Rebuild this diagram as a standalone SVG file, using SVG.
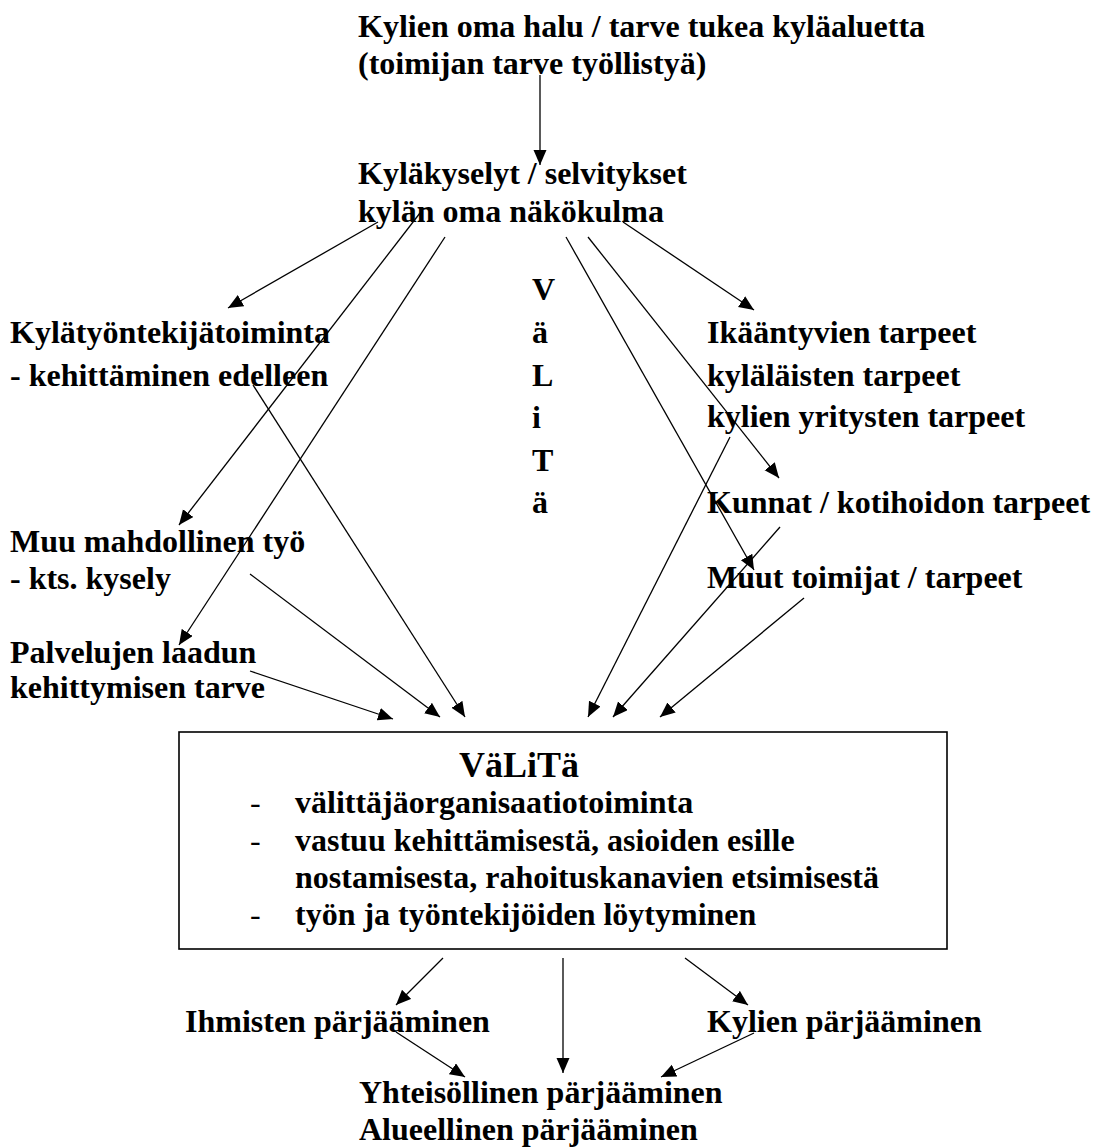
<svg xmlns="http://www.w3.org/2000/svg" width="1093" height="1147" viewBox="0 0 1093 1147">
<defs>
<marker id="ah" markerUnits="userSpaceOnUse" markerWidth="16" markerHeight="14" refX="15" refY="6.5" orient="auto">
<path d="M0,0 L15,6.5 L0,13 z" fill="#000"/>
</marker>
<style>
text{font-family:"Liberation Serif","Times New Roman",serif;font-weight:bold;font-size:32px;fill:#000}
.big{font-size:36px}
.dash{font-weight:normal}
.c line{stroke:#000;stroke-width:1.3;marker-end:url(#ah)}
</style>
</defs>
<rect width="1093" height="1147" fill="#fff"/>

<g id="top">
<text x="358" y="37">Kylien oma halu / tarve tukea kyläaluetta</text>
<text x="358" y="74">(toimijan tarve työllistyä)</text>
</g>
<g id="kysely">
<text x="358" y="184">Kyläkyselyt / selvitykset</text>
<text x="358" y="222">kylän oma näkökulma</text>
</g>
<g id="valita-vert">
<text x="532" y="300">V</text>
<text x="532" y="343">ä</text>
<text x="532" y="386">L</text>
<text x="532" y="428">i</text>
<text x="532" y="471">T</text>
<text x="532" y="513">ä</text>
</g>
<g id="kylatyo">
<text x="10" y="343">Kylätyöntekijätoiminta</text>
<text x="10" y="386">- kehittäminen edelleen</text>
</g>
<g id="muu">
<text x="10" y="552">Muu mahdollinen työ</text>
<text x="10" y="589">- kts. kysely</text>
</g>
<g id="palvelu">
<text x="10" y="663">Palvelujen laadun</text>
<text x="10" y="698">kehittymisen tarve</text>
</g>
<g id="tarpeet">
<text x="707" y="343">Ikääntyvien tarpeet</text>
<text x="707" y="386">kyläläisten tarpeet</text>
<text x="707" y="427">kylien yritysten tarpeet</text>
</g>
<g id="kunnat">
<text x="707" y="513">Kunnat / kotihoidon tarpeet</text>
</g>
<g id="muut">
<text x="707" y="588">Muut toimijat / tarpeet</text>
</g>
<g id="valita-box">
<rect x="179" y="732" width="768" height="217" fill="none" stroke="#000" stroke-width="1.6"/>
<text class="big" x="459" y="777">VäLiTä</text>
<text class="dash" x="250" y="813">-</text>
<text x="295" y="813">välittäjäorganisaatiotoiminta</text>
<text class="dash" x="250" y="851">-</text>
<text x="295" y="851">vastuu kehittämisestä, asioiden esille</text>
<text x="295" y="888">nostamisesta, rahoituskanavien etsimisestä</text>
<text class="dash" x="250" y="925">-</text>
<text x="295" y="925">työn ja työntekijöiden löytyminen</text>
</g>
<g id="ihmiset">
<text x="185" y="1032">Ihmisten pärjääminen</text>
</g>
<g id="kylat">
<text x="707" y="1032">Kylien pärjääminen</text>
</g>
<g id="yhteis">
<text x="359" y="1103">Yhteisöllinen pärjääminen</text>
<text x="359" y="1140">Alueellinen pärjääminen</text>
</g>

<g id="connectors" class="c">
<line x1="540" y1="75" x2="540" y2="165"/>
<line x1="378" y1="222" x2="228" y2="308"/>
<line x1="420" y1="213" x2="179" y2="525"/>
<line x1="445" y1="237" x2="179" y2="645"/>
<line x1="566" y1="237" x2="754" y2="570"/>
<line x1="588" y1="237" x2="779" y2="478"/>
<line x1="623" y1="222" x2="754" y2="310"/>
<line x1="253" y1="385" x2="465" y2="717"/>
<line x1="250" y1="574" x2="440" y2="717"/>
<line x1="250" y1="671" x2="393" y2="719"/>
<line x1="730" y1="437" x2="588" y2="717"/>
<line x1="780" y1="527" x2="613" y2="717"/>
<line x1="804" y1="598" x2="660" y2="717"/>
<line x1="443" y1="958" x2="396" y2="1005"/>
<line x1="563" y1="958" x2="563" y2="1073"/>
<line x1="685" y1="958" x2="748" y2="1005"/>
<line x1="396" y1="1032" x2="465" y2="1077"/>
<line x1="754" y1="1033" x2="661" y2="1077"/>
</g>
</svg>
